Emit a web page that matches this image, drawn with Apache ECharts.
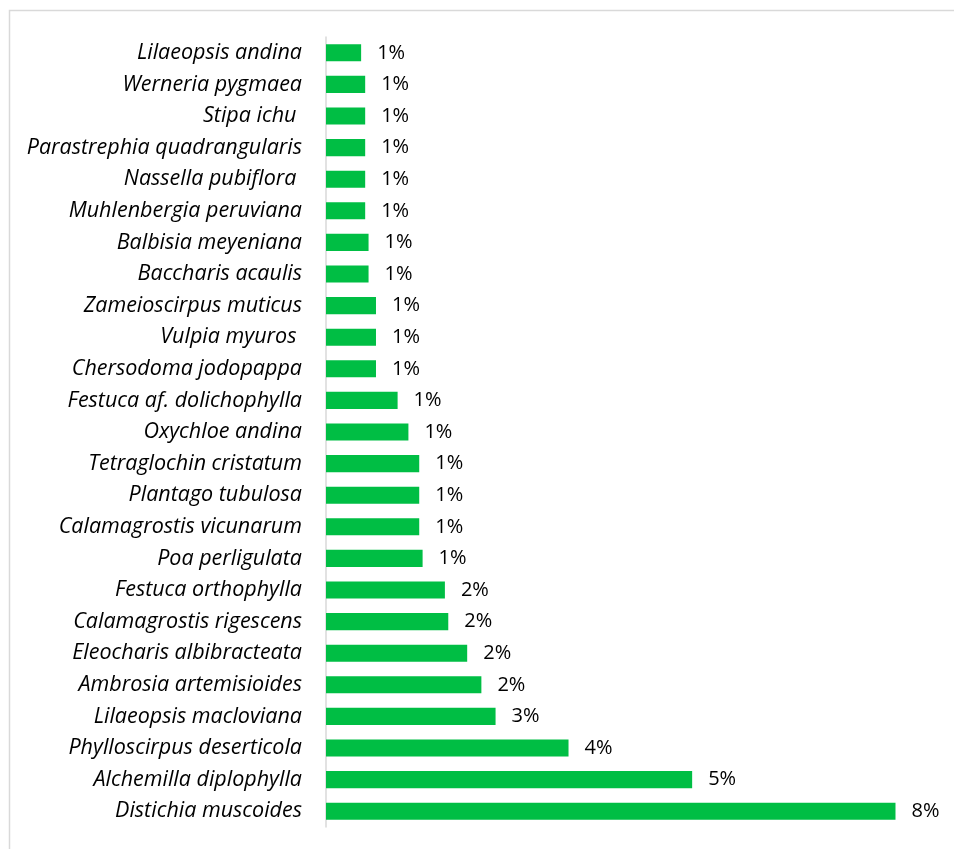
<!DOCTYPE html>
<html>
<head>
<meta charset="utf-8">
<script src="https://cdn.jsdelivr.net/npm/echarts@6/dist/echarts.min.js"></script>
<style>html,body{margin:0;padding:0;background:#fff;}#c{width:954px;height:849px;}</style>
</head>
<body>
<div id="c"></div>
<script>
var categories = [
  'Lilaeopsis andina', 'Werneria pygmaea', 'Stipa ichu ', 'Parastrephia quadrangularis',
  'Nassella pubiflora ', 'Muhlenbergia peruviana', 'Balbisia meyeniana', 'Baccharis acaulis',
  'Zameioscirpus muticus', 'Vulpia myuros ', 'Chersodoma jodopappa', 'Festuca af. dolichophylla',
  'Oxychloe andina', 'Tetraglochin cristatum', 'Plantago tubulosa', 'Calamagrostis vicunarum',
  'Poa perligulata', 'Festuca orthophylla', 'Calamagrostis rigescens', 'Eleocharis albibracteata',
  'Ambrosia artemisioides', 'Lilaeopsis macloviana', 'Phylloscirpus deserticola',
  'Alchemilla diplophylla', 'Distichia muscoides'
];
// percent share
var values = [
  0.52, 0.58, 0.58, 0.58,
  0.58, 0.58, 0.63, 0.63,
  0.74, 0.74, 0.74, 1.06,
  1.22, 1.38, 1.38, 1.38,
  1.43, 1.76, 1.81, 2.09,
  2.30, 2.51, 3.59,
  5.42, 8.43
];

var chart = echarts.init(document.getElementById('c'), null, {renderer: 'canvas'});
chart.setOption({
  backgroundColor: '#ffffff',
  animation: false,
  graphic: [{
    type: 'rect', left: 7, top: 8, z: -1,
    shape: {width: 1200, height: 1200},
    style: {fill: 'none', stroke: '#d9d9d9', lineWidth: 1.5}
  }],
  grid: {left: 326, top: 37, width: 608, height: 790, containLabel: false},
  xAxis: {
    type: 'value', min: 0, max: 9, show: false,
    splitLine: {show: false}
  },
  yAxis: {
    type: 'category', data: categories, inverse: true,
    axisLine: {show: true, lineStyle: {color: '#d9d9d9', width: 1.5}},
    axisTick: {show: false},
    axisLabel: {
      margin: 24, fontFamily: 'Open Sans', fontStyle: 'italic', fontSize: 21.5,
      color: '#000000'
    }
  },
  series: [{
    type: 'bar', data: values, barCategoryGap: '46%',
    itemStyle: {color: '#00BE44'},
    label: {
      show: true, position: 'right', distance: 16,
      fontFamily: 'Open Sans', fontSize: 20, color: '#000000',
      formatter: function (p) { return Math.round(p.value) + '%'; }
    }
  }]
});
</script>
</body>
</html>
